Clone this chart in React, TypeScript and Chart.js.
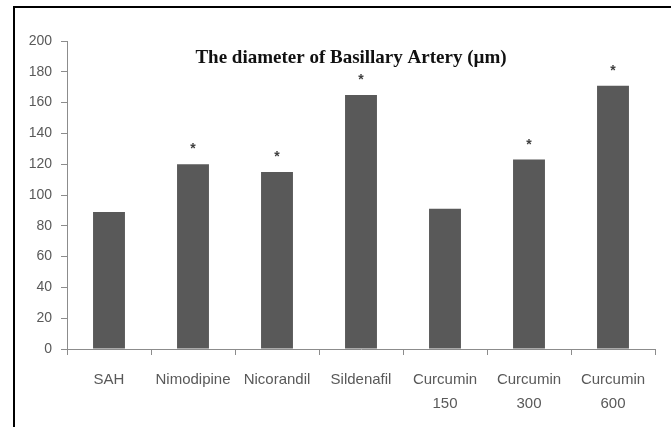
import React, { useEffect, useRef } from "react";
import { Chart, registerables } from "chart.js";

Chart.register(...registerables);

const categories: (string | string[])[] = [
  "SAH",
  "Nimodipine",
  "Nicorandil",
  "Sildenafil",
  ["Curcumin", "150"],
  ["Curcumin", "300"],
  ["Curcumin", "600"],
];
const diameters: number[] = [89, 120, 115, 165, 91, 123, 171];
const significant: boolean[] = [false, true, true, true, false, true, true];
const chartTitle = "The diameter of Basillary Artery (\u00b5m)";
const yMin = 0;
const yMax = 200;
const yStep = 20;

const SANS = "'Liberation Sans', Arial, sans-serif";
const SERIF = "'Liberation Serif', 'Times New Roman', serif";

export default function App() {
  const canvasRef = useRef<HTMLCanvasElement | null>(null);

  useEffect(() => {
    if (!canvasRef.current) return;

    const starPlugin = {
      id: "stars",
      afterDatasetsDraw(chart: any) {
        const ctx = chart.ctx;
        const meta = chart.getDatasetMeta(0);
        ctx.save();
        ctx.fillStyle = "#404040";
        ctx.font = `bold 14px ${SANS}`;
        ctx.textAlign = "center";
        ctx.textBaseline = "alphabetic";
        meta.data.forEach((bar: any, i: number) => {
          if (significant[i]) ctx.fillText("*", bar.x, bar.y - 11);
        });
        ctx.restore();
      },
    };

    const titlePlugin = {
      id: "innerTitle",
      afterDraw(chart: any) {
        const ctx = chart.ctx;
        const a = chart.chartArea;
        ctx.save();
        ctx.fillStyle = "#111";
        ctx.font = `bold 19px ${SERIF}`;
        ctx.textAlign = "center";
        ctx.textBaseline = "middle";
        ctx.fillText(chartTitle, (a.left + a.right) / 2 - 10, a.top + 17);
        ctx.restore();
      },
    };

    const chart = new Chart(canvasRef.current, {
      type: "bar",
      data: {
        labels: categories,
        datasets: [
          {
            data: diameters,
            backgroundColor: "#595959",
            borderWidth: 0,
            barPercentage: 0.38,
            categoryPercentage: 1,
          },
        ],
      },
      options: {
        animation: false,
        responsive: false,
        maintainAspectRatio: false,
        layout: { padding: { left: 14, top: 41, right: 16, bottom: 0 } },
        plugins: {
          legend: { display: false },
          title: { display: false },
          tooltip: { enabled: false },
        },
        scales: {
          x: {
            grid: {
              display: true,
              drawOnChartArea: false,
              tickLength: 6,
              color: "#8c8c8c",
              offset: true,
            },
            border: { color: "#8c8c8c" },
            ticks: {
              color: "#595959",
              font: { family: SANS, size: 15, lineHeight: 1.6 },
              maxRotation: 0,
              autoSkip: false,
              padding: 13,
            },
            afterFit: (s: any) => {
              s.height = 78;
            },
          },
          y: {
            min: yMin,
            max: yMax,
            grid: {
              display: true,
              drawOnChartArea: false,
              tickLength: 6,
              color: "#8c8c8c",
            },
            border: { color: "#8c8c8c" },
            ticks: {
              stepSize: yStep,
              color: "#595959",
              font: { family: SANS, size: 14 },
              padding: 9,
            },
            afterFit: (s: any) => {
              s.width = 53;
            },
          },
        },
      },
      plugins: [starPlugin, titlePlugin],
    });

    return () => chart.destroy();
  }, []);

  return (
    <div
      style={{
        position: "absolute",
        left: 0,
        top: 0,
        width: 671,
        height: 427,
        overflow: "hidden",
        background: "#fff",
      }}
    >
      <div
        style={{
          position: "absolute",
          left: 13,
          top: 6,
          width: 700,
          height: 500,
          borderLeft: "2px solid #000",
          borderTop: "2px solid #000",
        }}
      />
      <canvas
        ref={canvasRef}
        width={671}
        height={427}
        style={{ position: "absolute", left: 0, top: 0, width: 671, height: 427 }}
      />
    </div>
  );
}
